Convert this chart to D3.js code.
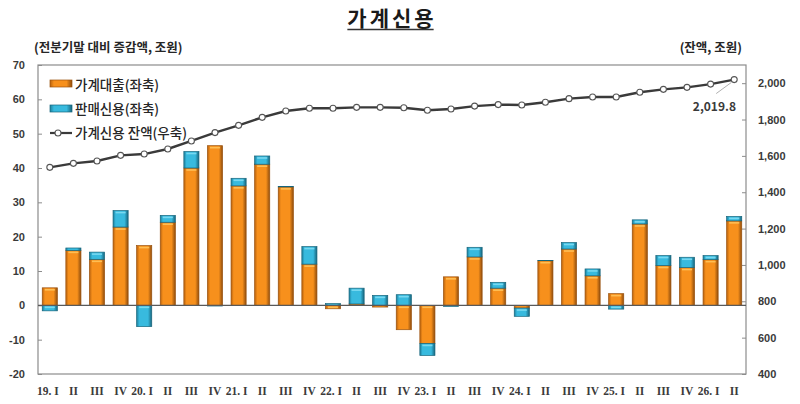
<!DOCTYPE html>
<html>
<head>
<meta charset="utf-8">
<script src="https://cdn.jsdelivr.net/npm/d3@7"></script>
<style>
  body { margin: 0; background: #fff; }
  svg { font-family: "Noto Sans CJK KR", "Noto Sans", sans-serif; }
  .tick-lbl { font-size: 11px; font-weight: 700; fill: #3a3a3a; }
  .unit { font-size: 12.5px; font-weight: 700; fill: #262626; }
  .leg { font-size: 13.5px; font-weight: 500; fill: #262626; }
</style>
</head>
<body>
<div id="chart"></div>
<script>
// quarters 2019.I – 2026.II
const quarters = ["19.I","19.II","19.III","19.IV","20.I","20.II","20.III","20.IV",
  "21.I","21.II","21.III","21.IV","22.I","22.II","22.III","22.IV",
  "23.I","23.II","23.III","23.IV","24.I","24.II","24.III","24.IV",
  "25.I","25.II","25.III","25.IV","26.I","26.II"];
const xLabels = ["19. I","II","III","IV","20. I","II","III","IV",
  "21. I","II","III","IV","22. I","II","III","IV",
  "23. I","II","III","IV","24. I","II","III","IV",
  "25. I","II","III","IV","26. I","II"];
// 가계대출 (조원, left axis)
const loans = [5.1, 16.0, 13.4, 22.8, 17.4, 24.2, 40.0, 46.5,
  34.8, 41.1, 34.5, 12.0, -1.0, 0.4, -0.5, -7.1,
  -11.1, 8.3, 14.1, 5.0, -0.8, 13.0, 16.4, 8.6,
  3.4, 23.7, 11.6, 11.0, 13.3, 24.6];
// 판매신용 (조원, left axis)
const sales = [-1.6, 0.7, 2.1, 4.8, -6.2, 2.0, 4.8, -0.2,
  2.2, 2.4, 0.1, 5.1, 0.5, 4.6, 2.9, 3.1,
  -3.5, -0.3, 2.8, 1.7, -2.4, 0.1, 1.9, 2.0,
  -1.1, 1.2, 2.9, 3.0, 1.2, 1.3];
// 가계신용 잔액 (조원, right axis)
const balance = [1537, 1559, 1572, 1603, 1610, 1638, 1682, 1728,
  1768, 1812, 1847, 1862, 1862, 1867, 1867, 1865,
  1851, 1858, 1874, 1882, 1880, 1895, 1915, 1924,
  1924, 1950, 1966, 1977, 1995, 2019.8];
const leftTicks = [-20, -10, 0, 10, 20, 30, 40, 50, 60, 70];
const rightTicks = [400, 600, 800, 1000, 1200, 1400, 1600, 1800, 2000];

const W = 800, H = 404;
const m = { left: 38, right: 746, top: 65, bottom: 374 };

const svg = d3.select("#chart").append("svg").attr("width", W).attr("height", H);
const defs = svg.append("defs");

function barGrad(id, edgeL, mid, edgeR) {
  const g = defs.append("linearGradient").attr("id", id).attr("x1", 0).attr("x2", 1).attr("y1", 0).attr("y2", 0);
  g.append("stop").attr("offset", "0%").attr("stop-color", edgeL);
  g.append("stop").attr("offset", "18%").attr("stop-color", mid);
  g.append("stop").attr("offset", "75%").attr("stop-color", mid);
  g.append("stop").attr("offset", "100%").attr("stop-color", edgeR);
}
barGrad("gOrange", "#b8620e", "#f7901c", "#8f4c0c");
barGrad("gBlue", "#1d7f9c", "#38bade", "#17657d");

const x = d3.scaleBand().domain(quarters).range([m.left, m.right]).paddingInner(0.36).paddingOuter(0.18);
const yL = d3.scaleLinear().domain([-20, 70]).range([m.bottom, m.top]);
const yR = d3.scaleLinear().domain([400, 2100]).range([m.bottom, m.top]);

// title
const title = svg.append("text").attr("x", 392).attr("y", 26).attr("text-anchor", "middle")
  .style("font-size", "21px").style("font-weight", 700).style("letter-spacing", "3px")
  .attr("fill", "#1a1a1a").text("가계신용");
const tb = title.node().getBBox();
svg.append("line").attr("x1", tb.x).attr("x2", tb.x + tb.width - 3).attr("y1", 29.5).attr("y2", 29.5)
  .attr("stroke", "#333").attr("stroke-width", 1.6);

svg.append("text").attr("class", "unit").attr("x", 34).attr("y", 52).text("(전분기말 대비 증감액, 조원)");
svg.append("text").attr("class", "unit").attr("x", 742).attr("y", 52).attr("text-anchor", "end").text("(잔액, 조원)");

// plot frame
svg.append("rect").attr("x", m.left).attr("y", m.top).attr("width", m.right - m.left).attr("height", m.bottom - m.top)
  .attr("fill", "none").attr("stroke", "#8c8c8c").attr("stroke-width", 1.2);

// axes (inner ticks, labels drawn by axis)
const axL = svg.append("g").attr("transform", `translate(${m.left},0)`)
  .call(d3.axisRight(yL).tickValues(leftTicks).tickSize(4).tickFormat(d => String(d)));
axL.select(".domain").remove();
axL.selectAll("line").attr("stroke", "#8c8c8c");
axL.selectAll("text").attr("class", "tick-lbl").attr("x", -13).attr("text-anchor", "end");

const axR = svg.append("g").attr("transform", `translate(${m.right},0)`)
  .call(d3.axisLeft(yR).tickValues(rightTicks).tickSize(4).tickFormat(d3.format(",")));
axR.select(".domain").remove();
axR.selectAll("line").attr("stroke", "#8c8c8c");
axR.selectAll("text").attr("class", "tick-lbl").attr("x", 12).attr("text-anchor", "start");

// x labels
svg.append("g").selectAll("text").data(quarters).join("text")
  .attr("class", "tick-lbl")
  .attr("x", (d, i) => x(d) + x.bandwidth() / 2 + (xLabels[i].includes(".") ? -2 : 0))
  .attr("y", 395).attr("text-anchor", "middle")
  .style("font-family", "'Liberation Serif', 'Noto Sans CJK KR', serif")
  .style("font-size", "11.5px")
  .text((d, i) => xLabels[i]);

// stacked bars (diverging)
const table = quarters.map((q, i) => ({ q, loans: loans[i], sales: sales[i] }));
const stack = d3.stack().keys(["loans", "sales"]).offset(d3.stackOffsetDiverging)(table);
const fills = { loans: "url(#gOrange)", sales: "url(#gBlue)" };
const strokes = { loans: "#9a520e", sales: "#16657c" };
const tops = { loans: "#ffc35a", sales: "#7fdcf2" };

stack.forEach(s => {
  const g = svg.append("g");
  g.selectAll("rect").data(s).join("rect")
    .attr("x", d => x(d.data.q))
    .attr("y", d => yL(Math.max(d[0], d[1])))
    .attr("width", x.bandwidth())
    .attr("height", d => Math.abs(yL(d[0]) - yL(d[1])))
    .attr("fill", fills[s.key])
    .attr("stroke", strokes[s.key]).attr("stroke-width", 0.7);
  // bevel highlight on the outer end of each segment
  g.selectAll("line").data(s.filter(d => Math.abs(yL(d[0]) - yL(d[1])) > 3)).join("line")
    .attr("x1", d => x(d.data.q) + 2.5).attr("x2", d => x(d.data.q) + x.bandwidth() - 2.5)
    .attr("y1", d => yL(Math.max(d[0], d[1])) + 2).attr("y2", d => yL(Math.max(d[0], d[1])) + 2)
    .attr("stroke", tops[s.key]).attr("stroke-width", 1.6).attr("opacity", 0.9);
});

// zero line
svg.append("line").attr("x1", m.left).attr("x2", m.right).attr("y1", yL(0)).attr("y2", yL(0))
  .attr("stroke", "#595959").attr("stroke-width", 1.2);

// balance line
const cx = (d, i) => x(quarters[i]) + x.bandwidth() / 2;
svg.append("path").datum(balance)
  .attr("d", d3.line().x(cx).y(d => yR(d)))
  .attr("fill", "none").attr("stroke", "#3a3a3a").attr("stroke-width", 2.4);
svg.append("g").selectAll("circle").data(balance).join("circle")
  .attr("cx", cx).attr("cy", d => yR(d)).attr("r", 3)
  .attr("fill", "#fff").attr("stroke", "#555").attr("stroke-width", 1.1);

// last value label
const li = balance.length - 1;
svg.append("line")
  .attr("x1", cx(balance[li], li) - 3).attr("y1", yR(balance[li]) + 3)
  .attr("x2", cx(balance[li], li) - 18).attr("y2", yR(balance[li]) + 14)
  .attr("stroke", "#b0b0b0").attr("stroke-width", 1);
svg.append("text").attr("class", "tick-lbl").style("font-size", "12px")
  .attr("x", 736).attr("y", 111).attr("text-anchor", "end").text(d3.format(",.1f")(balance[li]));

// legend
const leg = svg.append("g");
leg.append("rect").attr("x", 50).attr("y", 80).attr("width", 22).attr("height", 7)
  .attr("fill", "url(#gOrange)").attr("stroke", strokes.loans).attr("stroke-width", 0.7);
leg.append("rect").attr("x", 50).attr("y", 105).attr("width", 22).attr("height", 7)
  .attr("fill", "url(#gBlue)").attr("stroke", strokes.sales).attr("stroke-width", 0.7);
leg.append("line").attr("x1", 50).attr("x2", 72).attr("y1", 133).attr("y2", 133)
  .attr("stroke", "#3a3a3a").attr("stroke-width", 2.2);
leg.append("circle").attr("cx", 58).attr("cy", 133).attr("r", 3)
  .attr("fill", "#fff").attr("stroke", "#555").attr("stroke-width", 1.1);
leg.append("text").attr("class", "leg").attr("x", 75).attr("y", 90).text("가계대출(좌축)");
leg.append("text").attr("class", "leg").attr("x", 75).attr("y", 114).text("판매신용(좌축)");
leg.append("text").attr("class", "leg").attr("x", 75).attr("y", 138).text("가계신용 잔액(우축)");
</script>
</body>
</html>
